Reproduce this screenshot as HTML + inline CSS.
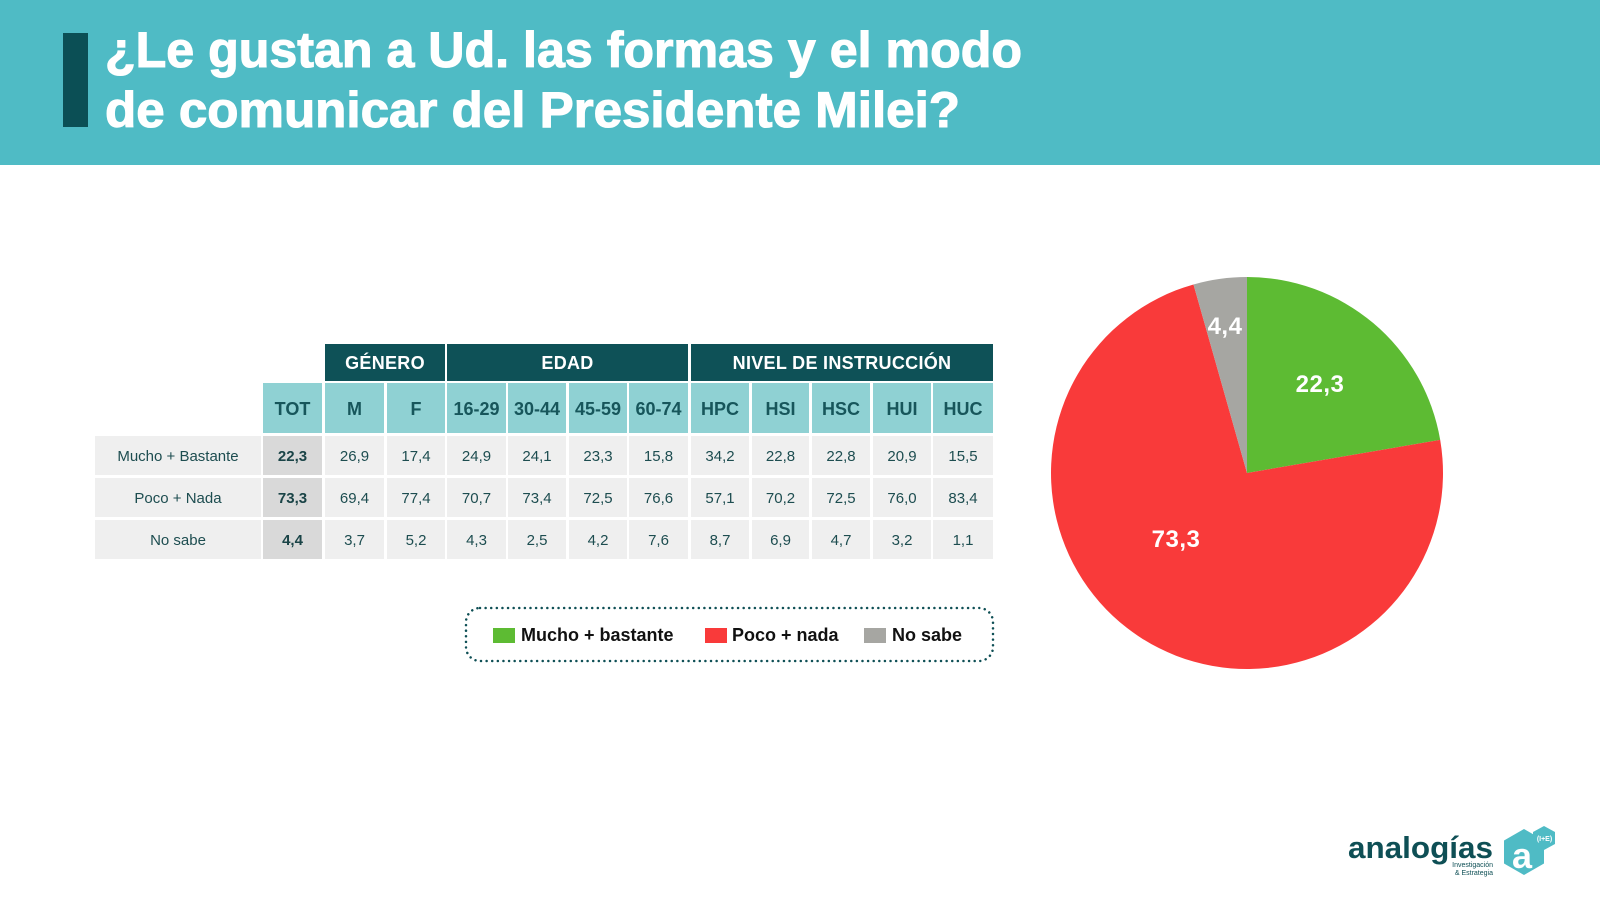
<!DOCTYPE html>
<html><head><meta charset="utf-8"><style>
html,body{margin:0;padding:0;background:#fff;}
svg{display:block;}
text{font-family:"Liberation Sans",Arial,sans-serif;}
.b{font-weight:bold;}
.hd{fill:#fff;font-size:18px;font-weight:bold;text-anchor:middle;letter-spacing:0.3px;}
.sh{fill:#17565B;font-size:18px;font-weight:bold;text-anchor:middle;}
.v{fill:#1D4D50;font-size:15px;text-anchor:middle;}
.vt{fill:#1A4447;font-size:15px;font-weight:bold;text-anchor:middle;}
.lg{fill:#111;font-size:18px;font-weight:bold;}
.pl{fill:#fff;font-size:24px;font-weight:bold;text-anchor:middle;letter-spacing:0.5px;}
</style></head><body>
<svg width="1600" height="909" viewBox="0 0 1600 909" xmlns="http://www.w3.org/2000/svg">
<!-- header band -->
<rect x="0" y="0" width="1600" height="165" fill="#4FBBC5"/>
<rect x="63" y="33" width="25" height="94" fill="#0B4F55"/>
<text x="105" y="67" class="b" fill="#fff" stroke="#fff" stroke-width="1.1" font-size="50" textLength="917" lengthAdjust="spacingAndGlyphs">¿Le gustan a Ud. las formas y el modo</text>
<text x="105" y="127" class="b" fill="#fff" stroke="#fff" stroke-width="1.1" font-size="50" textLength="855" lengthAdjust="spacingAndGlyphs">de comunicar del Presidente Milei?</text>

<!-- table group headers -->
<rect x="325" y="344" width="120" height="37" fill="#0E5157"/>
<rect x="447" y="344" width="241" height="37" fill="#0E5157"/>
<rect x="691" y="344" width="302" height="37" fill="#0E5157"/>
<text x="385" y="369" class="hd">GÉNERO</text>
<text x="567.5" y="369" class="hd">EDAD</text>
<text x="842" y="369" class="hd">NIVEL DE INSTRUCCIÓN</text>

<!-- sub headers -->
<g fill="#8FD1D3">
<rect x="263" y="383" width="59" height="50"/>
<rect x="325" y="383" width="59" height="50"/>
<rect x="387" y="383" width="58" height="50"/>
<rect x="447" y="383" width="59" height="50"/>
<rect x="508" y="383" width="58" height="50"/>
<rect x="569" y="383" width="58" height="50"/>
<rect x="629" y="383" width="59" height="50"/>
<rect x="691" y="383" width="58" height="50"/>
<rect x="752" y="383" width="57" height="50"/>
<rect x="812" y="383" width="58" height="50"/>
<rect x="873" y="383" width="58" height="50"/>
<rect x="933" y="383" width="60" height="50"/>
</g>
<text x="292.5" y="415" class="sh">TOT</text>
<text x="354.5" y="415" class="sh">M</text>
<text x="416" y="415" class="sh">F</text>
<text x="476.5" y="415" class="sh">16-29</text>
<text x="537" y="415" class="sh">30-44</text>
<text x="598" y="415" class="sh">45-59</text>
<text x="658.5" y="415" class="sh">60-74</text>
<text x="720" y="415" class="sh">HPC</text>
<text x="780.5" y="415" class="sh">HSI</text>
<text x="841" y="415" class="sh">HSC</text>
<text x="902" y="415" class="sh">HUI</text>
<text x="963" y="415" class="sh">HUC</text>

<!-- body rows backgrounds -->
<g fill="#EFEFEF">
<rect x="95" y="436" width="166" height="39"/>
<rect x="95" y="478" width="166" height="39"/>
<rect x="95" y="520" width="166" height="39"/>
</g>
<g fill="#D9D9D9">
<rect x="263" y="436" width="59" height="39"/>
<rect x="263" y="478" width="59" height="39"/>
<rect x="263" y="520" width="59" height="39"/>
</g>
<g fill="#EFEFEF">
<rect x="325" y="436" width="59" height="39"/><rect x="387" y="436" width="58" height="39"/><rect x="447" y="436" width="59" height="39"/><rect x="508" y="436" width="58" height="39"/><rect x="569" y="436" width="58" height="39"/><rect x="629" y="436" width="59" height="39"/><rect x="691" y="436" width="58" height="39"/><rect x="752" y="436" width="57" height="39"/><rect x="812" y="436" width="58" height="39"/><rect x="873" y="436" width="58" height="39"/><rect x="933" y="436" width="60" height="39"/>
<rect x="325" y="478" width="59" height="39"/><rect x="387" y="478" width="58" height="39"/><rect x="447" y="478" width="59" height="39"/><rect x="508" y="478" width="58" height="39"/><rect x="569" y="478" width="58" height="39"/><rect x="629" y="478" width="59" height="39"/><rect x="691" y="478" width="58" height="39"/><rect x="752" y="478" width="57" height="39"/><rect x="812" y="478" width="58" height="39"/><rect x="873" y="478" width="58" height="39"/><rect x="933" y="478" width="60" height="39"/>
<rect x="325" y="520" width="59" height="39"/><rect x="387" y="520" width="58" height="39"/><rect x="447" y="520" width="59" height="39"/><rect x="508" y="520" width="58" height="39"/><rect x="569" y="520" width="58" height="39"/><rect x="629" y="520" width="59" height="39"/><rect x="691" y="520" width="58" height="39"/><rect x="752" y="520" width="57" height="39"/><rect x="812" y="520" width="58" height="39"/><rect x="873" y="520" width="58" height="39"/><rect x="933" y="520" width="60" height="39"/>
</g>

<!-- row labels -->
<text x="178" y="461" class="v">Mucho + Bastante</text>
<text x="178" y="503" class="v">Poco + Nada</text>
<text x="178" y="545" class="v">No sabe</text>

<!-- row 1 -->
<text x="292.5" y="461" class="vt">22,3</text>
<text x="354.5" y="461" class="v">26,9</text>
<text x="416" y="461" class="v">17,4</text>
<text x="476.5" y="461" class="v">24,9</text>
<text x="537" y="461" class="v">24,1</text>
<text x="598" y="461" class="v">23,3</text>
<text x="658.5" y="461" class="v">15,8</text>
<text x="720" y="461" class="v">34,2</text>
<text x="780.5" y="461" class="v">22,8</text>
<text x="841" y="461" class="v">22,8</text>
<text x="902" y="461" class="v">20,9</text>
<text x="963" y="461" class="v">15,5</text>
<!-- row 2 -->
<text x="292.5" y="503" class="vt">73,3</text>
<text x="354.5" y="503" class="v">69,4</text>
<text x="416" y="503" class="v">77,4</text>
<text x="476.5" y="503" class="v">70,7</text>
<text x="537" y="503" class="v">73,4</text>
<text x="598" y="503" class="v">72,5</text>
<text x="658.5" y="503" class="v">76,6</text>
<text x="720" y="503" class="v">57,1</text>
<text x="780.5" y="503" class="v">70,2</text>
<text x="841" y="503" class="v">72,5</text>
<text x="902" y="503" class="v">76,0</text>
<text x="963" y="503" class="v">83,4</text>
<!-- row 3 -->
<text x="292.5" y="545" class="vt">4,4</text>
<text x="354.5" y="545" class="v">3,7</text>
<text x="416" y="545" class="v">5,2</text>
<text x="476.5" y="545" class="v">4,3</text>
<text x="537" y="545" class="v">2,5</text>
<text x="598" y="545" class="v">4,2</text>
<text x="658.5" y="545" class="v">7,6</text>
<text x="720" y="545" class="v">8,7</text>
<text x="780.5" y="545" class="v">6,9</text>
<text x="841" y="545" class="v">4,7</text>
<text x="902" y="545" class="v">3,2</text>
<text x="963" y="545" class="v">1,1</text>

<!-- legend -->
<rect x="466" y="608" width="527" height="53" rx="14" ry="14" fill="none" stroke="#0E4F55" stroke-width="2.5" stroke-dasharray="0.01 5.6" stroke-linecap="round"/>
<rect x="493" y="628" width="22" height="15" fill="#5DBB33"/>
<text x="521" y="641" class="lg">Mucho + bastante</text>
<rect x="705" y="628" width="22" height="15" fill="#F93A3A"/>
<text x="732" y="641" class="lg">Poco + nada</text>
<rect x="864" y="628" width="22" height="15" fill="#A6A6A2"/>
<text x="892" y="641" class="lg">No sabe</text>

<!-- pie -->
<path d="M1247,473 L1247,277 A196,196 0 0,1 1440.19,439.91 Z" fill="#5DBB33"/>
<path d="M1247,473 L1440.19,439.91 A196,196 0 1,1 1193.50,284.44 Z" fill="#F93A3A"/>
<path d="M1247,473 L1193.50,284.44 A196,196 0 0,1 1247,277 Z" fill="#A6A6A2"/>
<text x="1320" y="392" class="pl">22,3</text>
<text x="1176" y="547" class="pl">73,3</text>
<text x="1225" y="334" class="pl">4,4</text>

<!-- logo -->
<text x="1348" y="858" class="b" fill="#0E4F55" font-size="31" textLength="145" lengthAdjust="spacingAndGlyphs">analogías</text>
<text x="1493" y="867" fill="#0E4F55" font-size="7" text-anchor="end">Investigación</text>
<text x="1493" y="875" fill="#0E4F55" font-size="7" text-anchor="end">&amp; Estrategia</text>
<polygon points="1524,829 1544,840.5 1544,863.5 1524,875 1504,863.5 1504,840.5" fill="#4FBBC5"/>
<polygon points="1544,826 1555,832 1555,844 1544,850 1533,844 1533,832" fill="#4FBBC5"/>
<text x="1522" y="868" class="b" fill="#fff" font-size="36" text-anchor="middle">a</text>
<text x="1544.5" y="841" class="b" fill="#fff" font-size="7" text-anchor="middle">(I+E)</text>
</svg>
</body></html>
